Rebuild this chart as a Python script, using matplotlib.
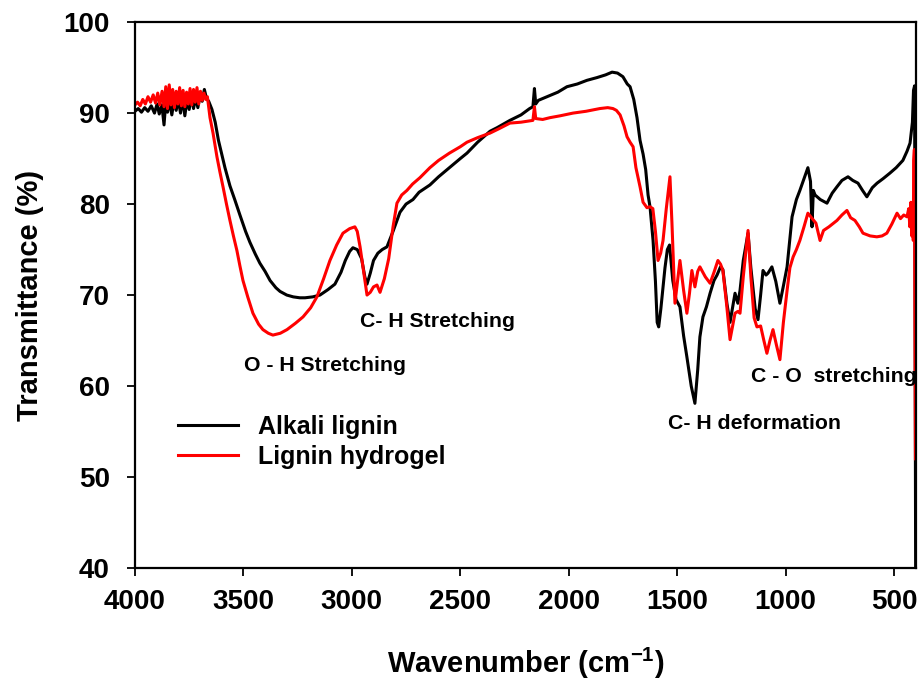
import matplotlib
matplotlib.use("Agg")
import matplotlib.pyplot as plt

plt.rcParams['font.family'] = ['Liberation Sans', 'DejaVu Sans']
plt.rcParams['font.weight'] = 'bold'
plt.rcParams['mathtext.fontset'] = 'custom'
plt.rcParams['mathtext.bf'] = 'Liberation Sans:bold'
plt.rcParams['mathtext.rm'] = 'Liberation Sans:bold'

# Alkali lignin (black)
alkali_wn = [4000, 3985, 3970, 3955, 3940, 3925, 3910, 3898, 3888, 3876, 3866, 3858, 3850, 3840,
             3830, 3820, 3810, 3800, 3790, 3780, 3770, 3760, 3750, 3740, 3730, 3720, 3710, 3700,
             3690, 3680, 3670, 3660, 3645, 3630, 3615, 3600, 3585, 3562, 3540, 3516, 3490, 3470,
             3445, 3424, 3400, 3377, 3350, 3331, 3300, 3270, 3240, 3216, 3180, 3147, 3110, 3078,
             3050, 3030, 3010, 2995, 2975, 2955, 2940, 2930, 2915, 2900, 2880, 2860, 2838, 2810,
             2778, 2750, 2718, 2690, 2640, 2600, 2550, 2500, 2469, 2420, 2363, 2330, 2271, 2220,
             2180, 2165, 2158, 2152, 2140, 2100, 2050, 2008, 1960, 1916, 1870, 1830, 1800, 1775,
             1750, 1730, 1717, 1700, 1685, 1671, 1657, 1645, 1634, 1625, 1611, 1600, 1592, 1585,
             1575, 1565, 1556, 1545, 1535, 1520, 1505, 1487, 1470, 1455, 1435, 1418, 1405, 1395,
             1381, 1365, 1348, 1330, 1316, 1300, 1289, 1270, 1256, 1245, 1233, 1220, 1210, 1195,
             1173, 1160, 1140, 1127, 1115, 1104, 1090, 1081, 1063, 1045, 1026, 1010, 993, 970,
             950, 934, 915, 897, 885, 878, 872, 864, 840, 809, 785, 763, 740, 712, 690, 666, 645,
             625, 600, 578, 550, 519, 490, 459, 440, 426, 415, 410, 405, 402, 400]
alkali_t = [90.2, 90.5, 90.1, 90.6, 90.2, 90.8, 90.0, 91.0, 89.9, 90.9, 88.7, 91.2, 90.1, 91.3,
            89.8, 91.4, 90.3, 91.5, 90.0, 91.6, 89.7, 91.5, 90.4, 91.8, 90.5, 91.7, 90.6, 92.0,
            91.3, 92.6, 91.6, 91.3, 90.4, 89.0, 87.0, 85.5, 84.0, 82.0, 80.5, 78.8, 77.0, 75.8,
            74.5, 73.5, 72.6, 71.6, 70.8, 70.4, 70.0, 69.8, 69.7, 69.7, 69.8, 70.0, 70.6, 71.2,
            72.5, 73.8, 74.8, 75.2, 75.0, 74.0, 72.0, 71.2, 72.4, 73.8, 74.6, 75.0, 75.3, 77.0,
            79.1, 80.0, 80.5, 81.3, 82.1, 83.0, 84.0, 85.0, 85.6, 86.8, 88.0, 88.4, 89.2, 89.8,
            90.5, 90.7, 92.7, 91.0, 91.4, 91.8, 92.3, 92.9, 93.2, 93.6, 93.9, 94.2, 94.5, 94.4,
            94.0, 93.2, 92.9, 91.5, 89.5, 87.0, 85.5, 83.8, 81.0, 79.7, 76.0, 71.5, 67.0, 66.5,
            68.5, 70.9, 73.0, 75.0, 75.5, 71.6, 69.5, 68.7, 65.5, 63.2, 60.0, 58.1, 61.8, 65.4,
            67.6, 68.7, 70.2, 71.6, 72.2, 73.1, 72.8, 69.0, 67.0, 68.5, 70.2, 69.1, 70.5, 73.8,
            76.8, 73.0, 68.5, 67.3, 70.0, 72.7, 72.2, 72.4, 73.1, 71.5, 69.1, 71.0, 73.1, 78.6,
            80.5, 81.5, 82.8, 84.0, 82.5, 77.5, 81.5, 81.0, 80.5, 80.1, 81.2, 81.9, 82.6, 83.0,
            82.6, 82.3, 81.5, 80.8, 81.8, 82.3, 82.8, 83.4, 84.0, 84.8, 85.8, 86.7, 89.0, 92.5,
            93.0, 60.0, 38.0]

# Lignin hydrogel (red)
hydrogel_wn = [4000, 3988, 3976, 3964, 3952, 3940, 3928, 3916, 3905, 3895, 3885, 3875, 3866,
               3858, 3850, 3842, 3834, 3826, 3818, 3810, 3802, 3794, 3786, 3778, 3770, 3762,
               3754, 3746, 3738, 3730, 3722, 3714, 3706, 3698, 3690, 3682, 3674, 3666, 3654,
               3640, 3622, 3608, 3594, 3578, 3562, 3546, 3530, 3516, 3502, 3480, 3456, 3430,
               3410, 3385, 3364, 3330, 3299, 3260, 3225, 3190, 3161, 3130, 3101, 3070, 3041,
               3010, 2986, 2975, 2962, 2945, 2930, 2915, 2900, 2884, 2870, 2850, 2830, 2810,
               2792, 2770, 2746, 2720, 2686, 2640, 2600, 2550, 2500, 2469, 2420, 2363, 2320,
               2271, 2220, 2165, 2158, 2152, 2120, 2086, 2040, 1980, 1920, 1856, 1820, 1796,
               1780, 1763, 1745, 1731, 1717, 1703, 1690, 1671, 1657, 1639, 1625, 1612, 1600,
               1588, 1576, 1565, 1550, 1533, 1524, 1510, 1498, 1487, 1470, 1455, 1443, 1432,
               1418, 1405, 1395, 1370, 1348, 1330, 1312, 1300, 1289, 1272, 1256, 1245, 1233,
               1220, 1210, 1195, 1173, 1160, 1145, 1132, 1115, 1100, 1086, 1072, 1058, 1042,
               1026, 1010, 993, 980, 965, 950, 934, 915, 897, 880, 860, 841, 825, 800, 763,
               740, 717, 700, 680, 660, 643, 610, 579, 555, 533, 510, 486, 470, 455, 440, 432,
               427, 422, 418, 414, 411, 409, 406, 401]
hydrogel_t = [90.9, 91.2, 90.8, 91.5, 91.0, 91.8, 91.2, 92.0, 91.1, 92.2, 90.9, 92.4, 90.7,
              92.9, 90.5, 93.1, 90.9, 92.6, 90.6, 92.4, 91.0, 92.8, 90.8, 92.5, 90.7, 92.3,
              91.0, 92.7, 90.9, 92.6, 91.2, 92.8, 91.0, 92.4, 91.4, 92.2, 91.5, 91.8, 89.5,
              87.8, 85.2, 83.5, 81.9, 80.0, 78.2, 76.5, 74.9, 73.2, 71.6, 69.8, 68.0, 66.8,
              66.2, 65.8, 65.6, 65.8, 66.2, 66.9, 67.6, 68.6, 69.8, 71.8, 73.8, 75.5, 76.8,
              77.3, 77.5, 77.0, 75.3, 72.5, 70.0, 70.3, 70.9, 71.1, 70.3, 71.8, 74.0, 77.5,
              80.1, 81.0, 81.5, 82.2, 82.9, 84.0, 84.8, 85.6, 86.3, 86.8, 87.3, 87.8, 88.3,
              88.9, 89.0, 89.2, 90.7, 89.4, 89.3, 89.5, 89.7, 90.0, 90.2, 90.5, 90.6, 90.5,
              90.3, 89.8, 88.6, 87.4, 86.8, 86.3, 84.0, 81.9, 80.2, 79.6, 79.7, 79.5, 77.0,
              73.8, 74.6, 76.0, 79.5, 83.0, 78.0, 69.1, 71.5, 73.8, 70.5, 68.0, 70.2, 72.7,
              70.9, 72.6, 73.1, 72.0, 71.3, 72.5, 73.8, 73.4, 72.7, 69.0, 65.1, 66.5, 68.0,
              68.2, 68.0, 72.0, 77.1, 72.0, 67.5, 66.5, 66.6, 65.0, 63.6, 65.0, 66.2, 64.5,
              62.9, 67.0, 70.5, 73.0, 74.2, 75.0, 76.0, 77.5, 79.0, 78.5, 77.9, 76.0, 77.1,
              77.5, 78.2, 78.8, 79.3, 78.5, 78.2, 77.5, 76.8, 76.5, 76.4, 76.5, 76.8, 77.8,
              79.0, 78.4, 78.8, 78.6, 79.5, 77.5, 80.2, 76.5, 79.5, 76.0, 84.8, 86.0, 52.0]

labels = ["Alkali lignin", "Lignin hydrogel"]
annotations = [("O - H Stretching", 3124, 62.3),
               ("C- H Stretching", 2607, 67.1),
               ("C- H deformation", 1141, 55.9),
               ("C - O  stretching", 777, 61.1)]
x_ticks = [4000, 3500, 3000, 2500, 2000, 1500, 1000, 500]
y_ticks = [40, 50, 60, 70, 80, 90, 100]

fig = plt.figure(figsize=(9.2, 6.91), dpi=100)
ax = fig.add_axes([0.1467, 0.178, 0.8486, 0.790])

ax.plot(alkali_wn, alkali_t, color='black', lw=2.2, label=labels[0])
ax.plot(hydrogel_wn, hydrogel_t, color='#ff0000', lw=2.2, label=labels[1])

ax.set_xlim(4000, 400)
ax.set_ylim(40, 100)
ax.set_xticks(x_ticks)
ax.set_yticks(y_ticks)
ax.tick_params(axis='both', direction='out', length=6, width=1.3, labelsize=20)
ax.tick_params(axis='x', pad=9)
ax.tick_params(axis='y', pad=12)
for lbl in ax.get_xticklabels() + ax.get_yticklabels():
    lbl.set_fontweight('bold')
for sp in ax.spines.values():
    sp.set_linewidth(1.6)

ax.set_xlabel("Wavenumber (cm$^{\\mathbf{-1}}$)", fontsize=21, fontweight='bold', labelpad=22)
ax.set_ylabel("Transmittance (%)", fontsize=21, fontweight='bold', labelpad=14)

for txt, xw, yt in annotations:
    ax.text(xw, yt, txt, fontsize=15.3, fontweight='bold', ha='center', va='center')

ax.legend(loc='upper left', bbox_to_anchor=(0.055, 0.28), frameon=False,
          handlelength=2.4, handletextpad=0.8, labelspacing=0.22,
          borderpad=0, borderaxespad=0, prop={'weight': 'bold', 'size': 18})

fig.savefig("out.png", dpi=100)
